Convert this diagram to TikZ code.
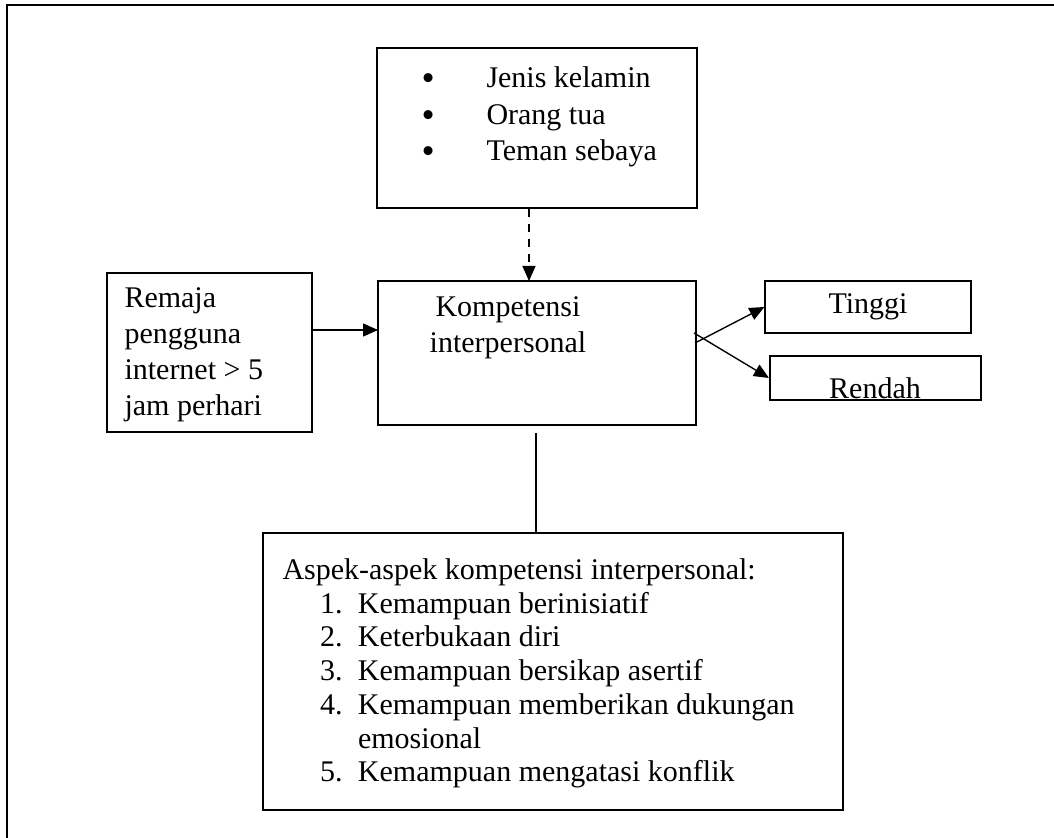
\documentclass[tikz,border=0pt]{standalone}
\usepackage{fontspec}
\setmainfont{Liberation Serif}
\usepackage{tikz}
\usetikzlibrary{arrows.meta, positioning}
\newcommand{\bigbullet}{\makebox[26pt][l]{\smash{\raisebox{-1.2pt}{\fontsize{15}{14}\selectfont\textbullet}}}}
\tikzset{
>={Triangle[length=6pt,width=5.2pt]}, % filled arrow heads
box/.style={draw, rectangle, line width=0.45pt, inner sep=0pt}, % plain frames
thickbox/.style={box, line width=0.85pt}, % heavier frames
txt/.style={inner sep=0pt, font=\fontsize{12}{14.6}\selectfont},
arr/.style={->, line width=0.55pt},
}

\begin{document}
\begin{tikzpicture}[x=0.4pt,y=-0.4pt]
  \useasboundingbox (0,0) rectangle (1054,838);
  % page frame
  \draw[line width=0.85pt] (1054,5) -- (7,5) -- (7,838);

  \node[thickbox, minimum width=128pt, minimum height=64pt] (faktor) at (537,128) {};
  \node[txt, anchor=west, align=left] (faktortxt) at (421,117)
    {\bigbullet Jenis kelamin\\
     \bigbullet Orang tua\\
     \bigbullet Teman sebaya};

  \node[box, minimum width=127.2pt, minimum height=57.6pt] (kompetensi) at (537,353) {};
  \node[txt, align=center] (kompetensitxt) at (508,328) {Kompetensi\\interpersonal};

  \node[box, minimum width=82pt, minimum height=63.6pt] (remaja) at (209.5,352.5) {};
  \node[txt, anchor=west, align=left, font=\fontsize{12}{14.4}\selectfont] (remajatxt) at (124,355)
    {Remaja\\pengguna\\internet > 5\\jam perhari};

  \node[box, txt, minimum width=82.4pt, minimum height=20.8pt] (tinggi) at (868,307) {Tinggi};
  \node[thickbox, minimum width=84.4pt, minimum height=17.6pt] (rendah) at (875.5,378) {};
  \node[txt, anchor=base] (rendahtxt) at (875,399) {Rendah};

  \node[box, minimum width=232pt, minimum height=110.8pt] (aspek) at (553,671.5) {};
  \node[txt, anchor=north west, align=left, font=\fontsize{12}{13.5}\selectfont] (aspektxt) at (282,558)
    {Aspek-aspek kompetensi interpersonal:\\
     \hspace*{15pt}\makebox[15.2pt][l]{1.}Kemampuan berinisiatif\\
     \hspace*{15pt}\makebox[15.2pt][l]{2.}Keterbukaan diri\\
     \hspace*{15pt}\makebox[15.2pt][l]{3.}Kemampuan bersikap asertif\\
     \hspace*{15pt}\makebox[15.2pt][l]{4.}Kemampuan memberikan dukungan\\
     \hspace*{30.2pt}emosional\\
     \hspace*{15pt}\makebox[15.2pt][l]{5.}Kemampuan mengatasi konflik};

  \coordinate (k-in) at (378,330);
  \coordinate (k-top) at (529,281);
  \coordinate (k-up) at (695,343);
  \coordinate (k-down) at (694,333);
  \coordinate (k-bot) at (536,433);

  \draw[arr] (remaja.east |- k-in) -- (k-in);
  \draw[arr, dashed] (faktor.south -| k-top) -- (k-top);
  \draw[arr] (k-up) -- (tinggi.west);
  \draw[arr] (k-down) -- (rendah.west);
  \draw[line width=0.55pt] (k-bot) -- (k-bot |- aspek.north);
\end{tikzpicture}
\end{document}
